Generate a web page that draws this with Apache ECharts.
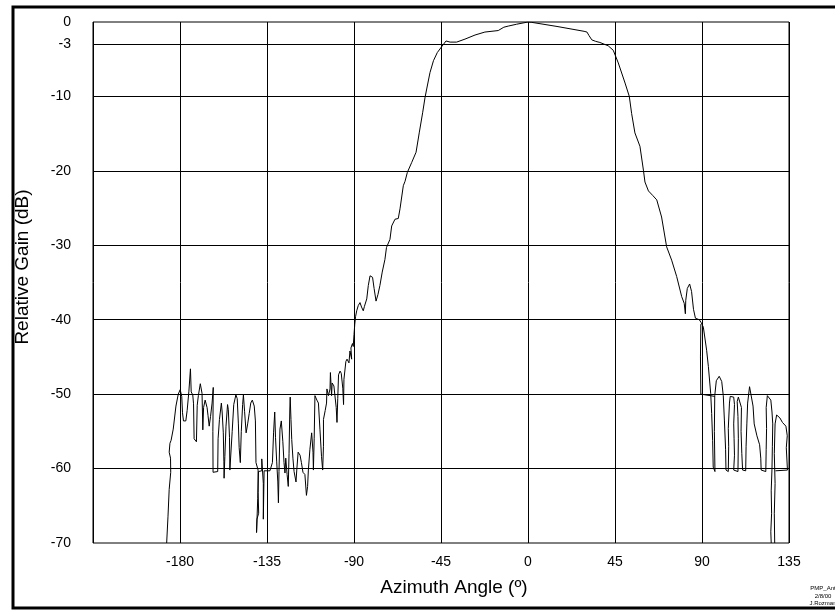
<!DOCTYPE html>
<html>
<head>
<meta charset="utf-8">
<script src="https://cdn.jsdelivr.net/npm/echarts@6/dist/echarts.min.js"></script>
<style>
  html, body { margin: 0; padding: 0; background: #fff; }
  #chart { width: 835px; height: 610px; }
</style>
</head>
<body>
<div id="chart"></div>
<script>
// axis labels
var xLabels = [-180, -135, -90, -45, 0, 45, 90, 135];
var yLabels = [0, -3, -10, -20, -30, -40, -50, -60, -70];
var yGridLines = [-3, -10, -20, -30, -40, -50, -60];

// measured pattern, [azimuth deg, relative gain dB]
var leftSidelobes = [
  [-186.9, -70], [-186.2, -66.4], [-185.6, -62.8], [-184.8, -60.5], [-184.9, -58.6], [-185.6, -57.8],
  [-185.2, -56.6], [-184.6, -56.2], [-183.5, -54.7], [-182.1, -51.6], [-180.9, -50.0], [-179.9, -49.4],
  [-179.1, -50.3], [-178.7, -52.5], [-178.2, -53.6], [-177.0, -53.6], [-176.3, -52.2], [-175.4, -49.6],
  [-174.6, -46.6], [-174.2, -49.7], [-173.4, -50.1], [-173.0, -51.3], [-172.7, -56.0], [-171.5, -56.4],
  [-171.1, -51.5], [-170.5, -50.2], [-169.5, -48.6], [-168.6, -49.9], [-168.2, -54.8], [-167.8, -51.8],
  [-167.0, -50.8], [-166.0, -51.8], [-165.5, -52.9], [-164.9, -54.3], [-164.2, -53.0], [-163.4, -51.2],
  [-162.8, -49.1], [-163.0, -55.0], [-162.9, -60.5], [-160.5, -60.4], [-160.3, -56.0], [-159.6, -53.4],
  [-158.6, -51.2], [-158.2, -52.4], [-157.6, -55.2], [-157.3, -59.1], [-157.2, -61.3], [-156.8, -58.4],
  [-156.2, -54.3], [-155.4, -51.4], [-155.0, -52.1], [-154.4, -55.8], [-154.2, -60.2], [-153.4, -60.2],
  [-153.0, -55.0], [-152.2, -51.4], [-151.1, -50.1], [-150.4, -50.6], [-149.8, -54.0], [-149.4, -57.2],
  [-148.8, -59.2], [-148.3, -55.0], [-147.6, -51.4], [-147.2, -50.1], [-146.6, -52.3], [-145.8, -55.2],
  [-145.0, -54.0], [-144.2, -52.6], [-143.4, -51.2], [-142.6, -50.8], [-141.6, -51.6], [-141.0, -53.6],
  [-140.7, -59.2], [-139.6, -60.2], [-139.6, -63.2], [-139.3, -66.0], [-140.2, -66.8], [-140.4, -68.6],
  [-139.8, -64.0], [-139.4, -60.4], [-137.7, -60.3], [-137.7, -58.7], [-136.9, -62.0], [-136.9, -66.8],
  [-136.5, -60.3], [-133.5, -60.3], [-132.2, -59.2], [-131.6, -55.2], [-131.0, -52.4], [-130.6, -55.8],
  [-130.0, -59.0], [-129.4, -61.8], [-129.1, -64.6], [-128.8, -60.4], [-128.3, -54.7], [-127.6, -53.6],
  [-126.8, -56.4], [-126.2, -59.2], [-125.7, -60.6], [-125.3, -58.6], [-124.6, -60.8], [-124.0, -62.4],
  [-123.6, -58.0], [-123.2, -52.0], [-123.0, -50.4], [-122.6, -53.4], [-122.2, -56.1], [-121.6, -58.6],
  [-121.0, -60.4], [-120.0, -61.8], [-119.6, -60.2], [-118.9, -57.8], [-117.9, -58.2], [-117.2, -59.2],
  [-116.4, -60.5], [-115.4, -60.8], [-114.6, -63.6], [-114.0, -62.4], [-113.6, -60.2], [-112.8, -57.4],
  [-111.9, -55.2], [-111.2, -57.8], [-111.0, -60.2], [-110.6, -56.0], [-110.2, -50.2], [-109.2, -50.8],
  [-108.4, -51.2], [-107.6, -54.8], [-106.8, -58.4], [-106.2, -60.2], [-105.8, -57.0], [-105.8, -53.4],
  [-104.9, -52.2], [-104.2, -51.2], [-104.0, -49.3], [-103.2, -50.2], [-102.4, -49.3], [-102.2, -47.1],
  [-101.6, -50.2], [-101.3, -48.5], [-100.4, -48.9], [-99.8, -48.8], [-99.2, -51.8], [-98.8, -53.8],
  [-98.4, -50.6], [-98.0, -47.4], [-97.2, -46.9], [-96.6, -47.2], [-95.8, -49.2], [-95.4, -51.4],
  [-94.8, -51.2], [-95.2, -48.0], [-94.2, -45.6], [-93.6, -45.3], [-92.6, -45.8], [-92.1, -44.2],
  [-91.2, -45.3], [-91.6, -43.8], [-90.8, -43.2], [-90.4, -43.6], [-90.0, -42.0], [-89.6, -40.6],
  [-89.2, -39.6]
];

var mainBeam = [
  [-89.2, -39.6], [-88.6, -38.8], [-87.8, -38.1], [-86.9, -37.7], [-86.1, -38.3], [-85.2, -38.8],
  [-84.6, -38.2], [-83.4, -37.2], [-82.6, -35.4], [-81.7, -34.1], [-80.4, -34.3], [-79.6, -35.8],
  [-78.6, -37.5], [-77.6, -36.6], [-76.6, -35.4], [-75.4, -33.6], [-74.0, -31.9], [-73.2, -30.3],
  [-71.4, -29.2], [-70.5, -27.4], [-68.8, -26.5], [-67.1, -26.4], [-66.2, -25.1], [-64.5, -22.0],
  [-63.6, -21.4], [-62.4, -20.2], [-60.2, -18.9], [-57.9, -17.5], [-56.2, -14.8], [-54.5, -12.2],
  [-53.3, -10.2], [-52.4, -9.0], [-50.7, -6.8], [-48.9, -5.2], [-46.9, -4.1], [-44.6, -3.3],
  [-42.4, -2.55], [-40.3, -2.7], [-36.9, -2.7], [-32.6, -2.3], [-27.4, -1.75], [-22.3, -1.35],
  [-15.4, -1.15], [-12.5, -0.7], [-10.2, -0.55], [-5.9, -0.3], [0, 0], [2, -0.05],
  [15, -0.6], [29, -1.25], [30.5, -1.35], [31.5, -1.8], [33, -2.4], [35, -2.6],
  [37.2, -2.75], [41.5, -3.2], [44.1, -3.8], [46.7, -5.5], [50.2, -8.2], [52.4, -10.0],
  [53.6, -12.3], [55.3, -14.9], [57.9, -16.7], [59.7, -19.9], [60.5, -21.5], [62.3, -22.7],
  [64.5, -23.3], [66.6, -23.9], [69.1, -26.2], [71.7, -30.2], [74.3, -32.0], [76.9, -34.2],
  [79.5, -36.9], [80.8, -37.8], [81.4, -39.2], [81.6, -37.4], [82.4, -35.8], [83.6, -35.2],
  [84.6, -36.2], [85.6, -38.6], [86.6, -39.8], [88.6, -40.0], [89.6, -40.4]
];

var rightSidelobes = [
  [89.6, -40.4], [90.7, -41.0], [92.4, -44.1], [93.3, -46.3], [94.5, -49.9], [95.0, -52.6],
  [95.5, -56.2], [95.8, -59.8], [96.7, -60.4], [96.4, -55.0], [96.6, -50.2], [97.4, -48.2],
  [98.9, -47.6], [100.2, -48.3], [101.0, -50.2], [101.6, -53.6], [102.2, -57.4], [102.4, -60.2],
  [103.6, -60.4], [103.8, -57.0], [103.6, -54.6], [104.2, -51.2], [104.6, -50.3], [106.4, -50.4],
  [106.8, -51.4], [106.4, -54.0], [106.6, -56.0], [106.8, -58.2], [106.4, -60.2], [108.6, -60.4],
  [108.8, -56.0], [108.6, -53.0], [108.2, -51.0], [108.8, -50.4], [109.6, -50.6], [110.4, -51.8],
  [110.2, -55.0], [110.6, -58.0], [111.0, -60.2], [112.6, -60.3], [112.8, -57.0], [113.2, -54.0],
  [113.6, -51.2], [114.6, -49.0], [115.6, -49.2], [116.4, -51.6], [117.0, -54.0], [118.4, -55.6],
  [119.8, -56.8], [120.4, -58.6], [120.6, -60.2], [123.0, -60.4], [123.2, -57.4], [123.4, -54.6],
  [123.2, -51.8], [123.8, -50.2], [124.8, -50.0], [125.6, -50.8], [126.2, -52.4], [126.6, -54.0],
  [126.4, -57.0], [126.2, -60.0], [125.8, -63.0], [126.0, -66.0], [125.6, -68.5], [125.8, -70.0]
];

var rightTail = [
  [127.6, -70.0], [127.4, -66.0], [127.8, -62.0], [127.4, -58.0], [127.8, -54.0], [128.6, -52.8],
  [130.3, -53.2], [131.6, -53.8], [133.4, -54.3], [134.1, -55.6], [133.6, -57.2], [134.2, -60.2],
  [128.0, -60.3]
];

var rightShoulder = [[89.4, -40.6], [89.2, -45.0], [89.4, -50.0], [96.6, -50.3]];

var traces = [leftSidelobes, mainBeam, rightSidelobes, rightTail, rightShoulder];

var chart = echarts.init(document.getElementById('chart'), null, { renderer: 'canvas' });

var font = "'Liberation Sans', Arial, sans-serif";

var option = {
  animation: false,
  backgroundColor: '#fff',
  grid: {
    left: 93, top: 22, right: 46, bottom: 67,
    show: true, borderColor: '#000', borderWidth: 1
  },
  xAxis: {
    type: 'value',
    min: -225, max: 135, interval: 45,
    axisLine: { show: false },
    axisTick: { show: false },
    splitLine: { show: true, lineStyle: { color: '#000', width: 1 } },
    axisLabel: {
      color: '#000', fontSize: 14, fontFamily: font, margin: 12,
      customValues: xLabels
    }
  },
  yAxis: {
    type: 'value',
    min: -70, max: 0, interval: 10,
    axisLine: { show: false },
    axisTick: { show: true, length: 10, lineStyle: { color: '#000' }, customValues: yGridLines },
    splitLine: { show: true, lineStyle: { color: '#000', width: 1 } },
    axisLabel: {
      color: '#000', fontSize: 14, fontFamily: font, margin: 22,
      customValues: yLabels
    }
  },
  series: traces.map(function (d) {
    return {
      type: 'line',
      data: d,
      showSymbol: false,
      symbol: 'none',
      silent: true,
      lineStyle: { color: '#000', width: 1 },
      z: 5
    };
  }),
  graphic: [
    { type: 'rect', shape: { x: 13, y: 7, width: 830, height: 601 },
      style: { fill: null, stroke: '#000', lineWidth: 3 }, silent: true },
    { type: 'text', x: 454, y: 588, style: { text: 'Azimuth Angle (º)', font: '19px ' + font,
      fill: '#000', textAlign: 'center', textVerticalAlign: 'middle' } },
    { type: 'text', x: 23, y: 267, rotation: Math.PI / 2,
      style: { text: 'Relative Gain (dB)', font: '19px ' + font, fill: '#000',
        textAlign: 'center', textVerticalAlign: 'middle' } },
    { type: 'text', x: 823, y: 588, style: { text: 'PMP_Ant', font: '6px ' + font, fill: '#000',
      textAlign: 'center', textVerticalAlign: 'middle' } },
    { type: 'text', x: 823, y: 596, style: { text: '2/8/00', font: '6px ' + font, fill: '#000',
      textAlign: 'center', textVerticalAlign: 'middle' } },
    { type: 'text', x: 823, y: 603, style: { text: 'J.Rozman', font: '6px ' + font, fill: '#000',
      textAlign: 'center', textVerticalAlign: 'middle' } }
  ]
};

chart.setOption(option);
</script>
</body>
</html>
